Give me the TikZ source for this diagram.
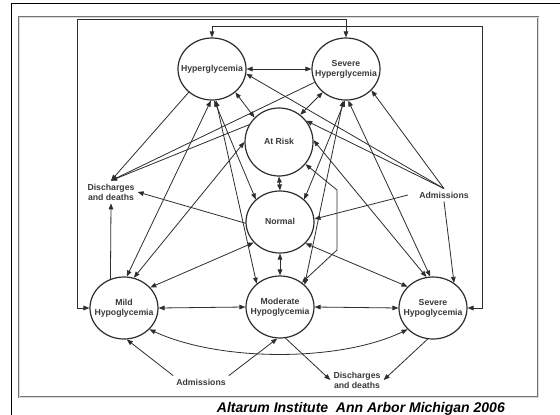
\documentclass[tikz,border=0pt]{standalone}
\usepackage{fontspec}
\setmainfont{Liberation Sans}
\usetikzlibrary{shapes.geometric,arrows.meta,calc}
\definecolor{ln}{HTML}{2E2E2E}
\definecolor{tx}{HTML}{3A3A3A}
\newcommand{\ctext}[1]{\makebox[0pt]{\begin{tabular}{@{}c@{}}#1\end{tabular}}}
\begin{document}
\begin{tikzpicture}[x=1pt,y=-1pt,
  st/.style={ellipse,draw=ln,line width=1.2pt,minimum width=68pt,minimum height=62pt,inner sep=0pt,
    font=\fontsize{8.7}{10}\selectfont\bfseries,text=tx},
  lbl/.style={align=center,inner sep=3pt,font=\fontsize{8.7}{10}\selectfont\bfseries,text=tx},
  ed/.style={draw=ln,line width=0.8pt,{Triangle[length=6pt,width=4.6pt]}-{Triangle[length=6pt,width=4.6pt]}},
  ea/.style={draw=ln,line width=0.8pt,-{Triangle[length=6pt,width=4.6pt]}}]
\useasboundingbox (0,0) rectangle (560,415);
\fill[white] (0,0) rectangle (560,415);
% outer borders
\draw[black,line width=1pt] (11,415) -- (11,3) -- (560,3);
\draw[black!55,line width=0.5pt,double=black!15,double distance=0.9pt] (19,17) rectangle (538,397);
% states
\node[st] (HG) at (212,69) {\ctext{Hyperglycemia}};
\node[st] (SHG) at (346,69) {\ctext{Severe\\Hyperglycemia}};
\node[st,minimum height=68pt] (AR) at (279,142) {\ctext{At Risk}};
\node[st] (N) at (280,222) {\ctext{Normal}};
\node[st] (MOD) at (280,307) {\ctext{Moderate\\Hypoglycemia}};
\node[st] (MILD) at (124,308) {\ctext{Mild\\Hypoglycemia}};
\node[st] (SHO) at (433,308) {\ctext{Severe\\Hypoglycemia}};
% labels
\node[lbl] (DL) at (111,192) {Discharges\\and deaths};
\node[lbl] (AdmR) at (444,195) {Admissions};
\node[lbl] (AdmB) at (201,382) {Admissions};
\node[lbl] (DB) at (357,380) {Discharges\\and deaths};
\node[anchor=base east,inner sep=0pt,font=\fontsize{14}{16}\selectfont\bfseries\itshape] (cap) at (505,412) {Altarum Institute\ \ Ann Arbor Michigan 2006};
% helper coordinates
\coordinate (AdmRw) at (408,195);
\coordinate (b1) at (337,190);
\coordinate (b2) at (337,250);
\coordinate (L1) at (77,308);
\coordinate (L2) at (77,19);
\coordinate (L3) at (346,19);
\coordinate (R1) at (482,308);
\coordinate (R2) at (482,26);
\coordinate (R3) at (212,26);
% loops
\draw[ed] (MILD.west) -- (L1) -- (L2) -- (L3) -- (SHG.north);
\draw[ed] (SHO.east) -- (R1) -- (R2) -- (R3) -- (HG.north);
% state-state
\draw[ed] (HG.east) -- (SHG.west);
\draw[ed] (HG.-45) -- (AR.135);
\draw[ed] (SHG.-135) -- (AR.52);
\draw[ed] (AR.south) -- (N.north);
\draw[ed] (N.south) -- (MOD.north);
\draw[ed] (MILD.east) -- (MOD.west);
\draw[ed] (MOD.east) -- (SHO.west);
\draw[ed] (MILD.38) -- (N.218);
\draw[ed] (N.-40) -- (SHO.140);
\draw[ed] (MILD.-40) .. controls (220,362) and (340,362) .. (SHO.-140);
\draw[ed] (HG.-92) -- (MILD.85);
\draw[ed] (HG.-86) -- (N.137);
\draw[ed] (HG.-83) -- (MOD.135);
\draw[ed] (AR.180) -- (MILD.72);
\draw[ed] (SHG.-92) -- (N.43);
\draw[ed] (SHG.-95) -- (MOD.42);
\draw[ed] (SHG.-86) -- (SHO.95);
\draw[ed] (AR.3) -- (SHO.102);
\draw[ed] (AR.-40) -- (b1) -- (b2) -- (MOD.48);
% admissions / discharges
\draw[ea] (AdmB.north west) -- (MILD.-85);
\draw[ea] (AdmB.north east) -- (MOD.-95);
\draw[ea] (MOD.-80) -- (DB.west);
\draw[ea] (SHO.-100) -- (DB.east);
\draw[ea] (MILD.115) -- (DL.south);
\draw[ea] (HG.225) -- (DL.north);
\draw[ea] (SHG.203) -- (DL.north);
\draw[ea] (AR.150) -- (DL.north);
\draw[ea] (N.182) -- (DL.east);
\draw[ea] (AdmR.north) -- (HG.-8);
\draw[ea] (AdmR.north) -- (AR.38);
\draw[ea] (AdmR.north) -- (SHG.-40);
\draw[ea] (AdmRw) -- (N.5);
\draw[ea] (AdmR.south) -- (SHO.50);
\end{tikzpicture}
\end{document}
